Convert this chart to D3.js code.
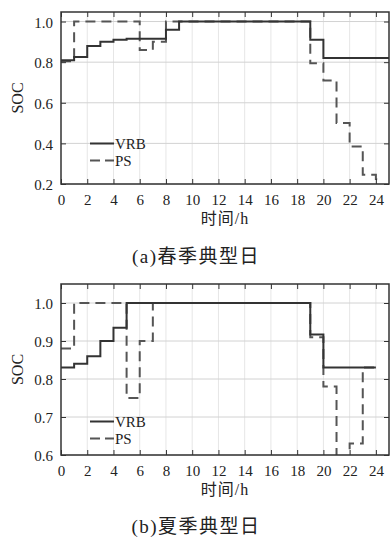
<!DOCTYPE html>
<html>
<head>
<meta charset="utf-8">
<script src="https://cdn.jsdelivr.net/npm/d3@7"></script>
<style>
  body { margin: 0; background: #fff; }
  text { font-family: "Liberation Serif", "Times New Roman", "DejaVu Serif", "Noto Sans CJK SC", serif; fill: #222; }
</style>
</head>
<body>
<div id="chart"></div>
<script>
// hourly SOC, step value held from hour i to i+1 (last entry = value at end)
const hours = d3.range(0, 25);
const springVRB = [0.81, 0.825, 0.88, 0.90, 0.91, 0.915, 0.915, 0.915, 0.96, 1, 1, 1, 1, 1, 1, 1, 1, 1, 1, 0.91, 0.82, 0.82, 0.82, 0.82, 0.82];
const springPS = [0.805, 1, 1, 1, 1, 1, 0.86, 0.90, 1, 1, 1, 1, 1, 1, 1, 1, 1, 1, 1, 0.795, 0.71, 0.50, 0.385, 0.245, 0.225];
const summerVRB = [0.83, 0.84, 0.86, 0.90, 0.935, 1, 1, 1, 1, 1, 1, 1, 1, 1, 1, 1, 1, 1, 1, 0.917, 0.83, 0.83, 0.83, 0.83, 0.83];
const summerPS = [0.88, 1, 1, 1, 1, 0.75, 0.90, 1, 1, 1, 1, 1, 1, 1, 1, 1, 1, 1, 1, 0.91, 0.78, 0.55, 0.63, 0.83, 0.83];
const springEnd = { VRB: 25, PS: 24.4 };
const summerEnd = { VRB: 24, PS: 24 };
const xTicks = d3.range(0, 25, 2);
const springYTicks = [0.2, 0.4, 0.6, 0.8, 1.0];
const summerYTicks = [0.6, 0.7, 0.8, 0.9, 1.0];
const seriesNames = ["VRB", "PS"];

const W = 390, H = 541;
const left = 61, right = 389;
const solidColor = "#333";
const dashColor = "#555";
const serif = "'Liberation Serif', 'Times New Roman', 'DejaVu Serif', 'Noto Sans CJK SC', serif";

const svg = d3.select("#chart").append("svg")
    .attr("width", W)
    .attr("height", H);

function panel(id, top, bottom, yDomain, yTicks, vrb, ps, ends, legendY, caption, captionY) {
    const x = d3.scaleLinear().domain([0, 25]).range([left, right]);
    const y = d3.scaleLinear().domain(yDomain).range([bottom, top]);

    svg.append("clipPath").attr("id", id)
        .append("rect")
        .attr("x", left).attr("y", top)
        .attr("width", right - left).attr("height", bottom - top);

    // grid
    svg.append("g").selectAll("line")
        .data(xTicks.filter(d => d > 0))
        .enter().append("line")
        .attr("x1", d => x(d)).attr("x2", d => x(d))
        .attr("y1", top).attr("y2", bottom)
        .attr("stroke", "#e6e6e6").attr("stroke-width", 1);
    svg.append("g").selectAll("line")
        .data(yTicks)
        .enter().append("line")
        .attr("x1", left).attr("x2", right)
        .attr("y1", d => y(d)).attr("y2", d => y(d))
        .attr("stroke", "#d2d2d2").attr("stroke-width", 1);

    // step lines
    const line = d3.line().x(d => x(d[0])).y(d => y(d[1])).curve(d3.curveStepAfter);
    const plot = svg.append("g").attr("clip-path", `url(#${id})`);
    const ptsPS = hours.map((h, i) => [h, ps[i]]).concat([[ends.PS, ps[24]]]);
    const ptsVRB = hours.map((h, i) => [h, vrb[i]]).concat([[ends.VRB, vrb[24]]]);
    plot.append("path").attr("d", line(ptsPS))
        .attr("fill", "none").attr("stroke", dashColor)
        .attr("stroke-width", 2).attr("stroke-dasharray", "10,6");
    plot.append("path").attr("d", line(ptsVRB))
        .attr("fill", "none").attr("stroke", solidColor)
        .attr("stroke-width", 2);

    // axes with inward ticks
    svg.append("g").attr("transform", `translate(0,${bottom})`)
        .call(d3.axisBottom(x).tickValues(xTicks).tickSizeInner(-5).tickSizeOuter(0).tickFormat(d3.format("d")))
        .attr("font-family", serif).attr("font-size", 15)
        .call(g => g.select(".domain").remove())
        .call(g => g.selectAll("line").attr("stroke", "#333"))
        .call(g => g.selectAll("text").attr("y", 21).attr("dy", null).attr("fill", "#222"));
    svg.append("g").attr("transform", `translate(0,${top})`)
        .call(d3.axisTop(x).tickValues(xTicks).tickSizeInner(-5).tickSizeOuter(0).tickFormat(""))
        .call(g => g.select(".domain").remove())
        .call(g => g.selectAll("line").attr("stroke", "#333"));
    svg.append("g").attr("transform", `translate(${left},0)`)
        .call(d3.axisLeft(y).tickValues(yTicks).tickSizeInner(-5).tickSizeOuter(0).tickPadding(8).tickFormat(d3.format(".1f")))
        .attr("font-family", serif).attr("font-size", 15)
        .call(g => g.select(".domain").remove())
        .call(g => g.selectAll("line").attr("stroke", "#333"))
        .call(g => g.selectAll("text").attr("dy", "0.38em").attr("fill", "#222"));
    svg.append("g").attr("transform", `translate(${right},0)`)
        .call(d3.axisRight(y).tickValues(yTicks).tickSizeInner(-5).tickSizeOuter(0).tickFormat(""))
        .call(g => g.select(".domain").remove())
        .call(g => g.selectAll("line").attr("stroke", "#333"));

    // frame
    svg.append("rect")
        .attr("x", left).attr("y", top)
        .attr("width", right - left).attr("height", bottom - top)
        .attr("fill", "none").attr("stroke", "#333").attr("stroke-width", 1.5);

    // legend
    seriesNames.forEach((name, i) => {
        const ly = legendY + i * 17;
        svg.append("line")
            .attr("x1", 90).attr("x2", 114)
            .attr("y1", ly).attr("y2", ly)
            .attr("stroke", i === 0 ? solidColor : dashColor)
            .attr("stroke-width", 2)
            .attr("stroke-dasharray", i === 0 ? null : "10,5");
        svg.append("text").text(name)
            .attr("x", 115).attr("y", ly + 5)
            .attr("font-size", 15);
    });

    // labels
    svg.append("text").text("SOC")
        .attr("transform", `translate(23,${(top + bottom) / 2}) rotate(-90)`)
        .attr("text-anchor", "middle")
        .attr("font-size", 16);
    svg.append("text").text("时间/h")
        .attr("x", (left + right) / 2).attr("y", bottom + 40)
        .attr("text-anchor", "middle")
        .attr("font-size", 16)
        .attr("letter-spacing", 1);
    svg.append("text").text(caption)
        .attr("x", 196).attr("y", captionY)
        .attr("text-anchor", "middle")
        .attr("font-size", 19)
        .attr("letter-spacing", 1.5);
}

panel("clipA", 12, 184, [0.2, 1.047], springYTicks, springVRB, springPS, springEnd, 143.5, "(a)春季典型日", 263);
panel("clipB", 284, 455, [0.6, 1.05], summerYTicks, summerVRB, summerPS, summerEnd, 421.5, "(b)夏季典型日", 533);
</script>
</body>
</html>
